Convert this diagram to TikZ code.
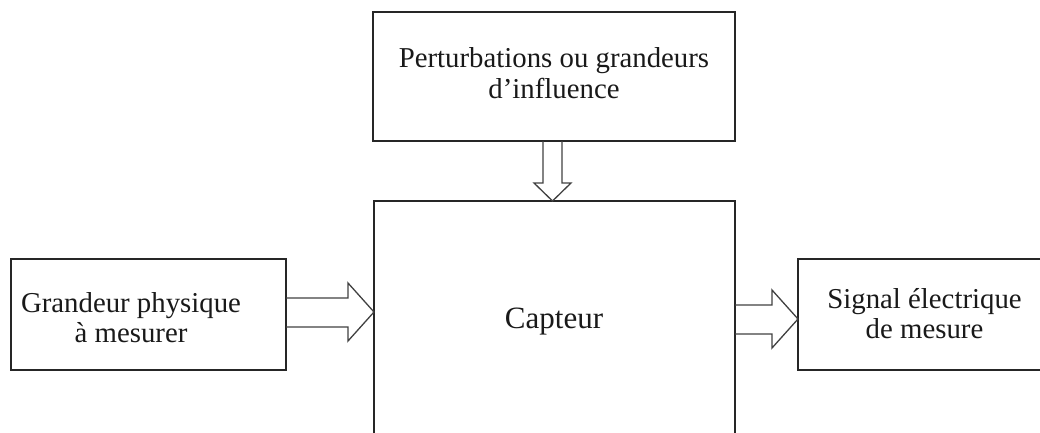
\documentclass[tikz,border=0pt]{standalone}
\usepackage{fontspec}
\setmainfont{Liberation Serif}
\begin{document}
\begin{tikzpicture}[x=1pt,y=-1pt,
  box/.style={draw=black!85, line width=1.5pt, rectangle, inner sep=0pt, outer sep=0pt},
  lbl/.style={anchor=base, inner sep=0pt, text=black!90, font=\fontsize{28.8}{30.5}\selectfont},
  bigl/.style={anchor=base, inner sep=0pt, text=black!90, font=\fontsize{31}{36}\selectfont},
  blockarrow/.style={draw=black!75, line width=1.3pt, line join=miter}]
\clip (0,0) rectangle (1040,433);
% boxes
\node[box, minimum width=362, minimum height=129] (pert) at (554,76.5) {};
\node[box, minimum width=361, minimum height=270] (capteur) at (554.5,336) {};
\node[box, minimum width=275, minimum height=111] (gp) at (148.5,314.5) {};
\node[box, minimum width=262, minimum height=111] (sig) at (929,314.5) {};
% texts
\node[lbl] (pert-t) at (554,68) {\begin{tabular}[t]{@{}c@{}}Perturbations ou grandeurs\\d’influence\end{tabular}};
\node[lbl] (gp-t) at (131,312) {\begin{tabular}[t]{@{}c@{}}Grandeur physique\\à mesurer\end{tabular}};
\node[lbl] (sig-t) at (924.5,308) {\begin{tabular}[t]{@{}c@{}}Signal électrique\\de mesure\end{tabular}};
\node[bigl] (capteur-t) at (554,328) {Capteur};
% block arrows
\draw[blockarrow] (543,0 |- pert.south) -- (543,183) -- (534,183) -- (552.5,0 |- capteur.north)
  -- (571,183) -- (562,183) -- (562,0 |- pert.south);
\draw[blockarrow] (gp.east |- 0,298) -- (348,298) -- (348,283) -- (capteur.west |- 0,312)
  -- (348,341) -- (348,327) -- (gp.east |- 0,327);
\draw[blockarrow] (capteur.east |- 0,305) -- (772,305) -- (772,290) -- (sig.west |- 0,319)
  -- (772,348) -- (772,334) -- (capteur.east |- 0,334);
\end{tikzpicture}
\end{document}
